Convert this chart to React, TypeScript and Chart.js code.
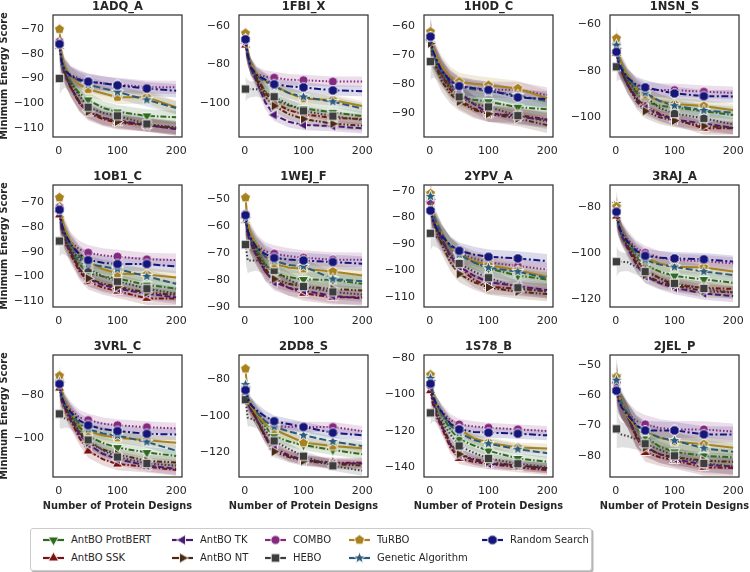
import React, { useEffect, useRef } from 'react';
import { Chart, registerables } from 'chart.js';
Chart.register(...registerables);

// ---------- data ----------
const xs = [1, 5, 10, 20, 35, 50, 75, 100, 150, 200];
const markerIdx = [0, 5, 7, 8];
const xTicks = [0, 100, 200];
const bandSpread = [6.5, 4.8, 4.2, 3.8, 3.4, 3.1, 2.9, 2.8, 2.7, 2.7];

const methods = ['AntBO ProtBERT', 'AntBO SSK', 'AntBO TK', 'AntBO NT', 'COMBO', 'HEBO', 'TuRBO', 'Genetic Algorithm', 'Random Search'];
const colors = ['#306a21', '#7a1111', '#4a1a72', '#4a2a12', '#84297f', '#3d3d3d', '#a8821e', '#2c5b78', '#16167a'];
const markers = ['triDown', 'triUp', 'triLeft', 'triRight', 'circle', 'square', 'pentagon', 'star', 'octagon'];
const dashes = [[6, 2, 1.5, 2], [5, 2, 1.5, 2], [6, 2.5], [5, 2, 1.5, 2, 1.5, 2], [1.5, 2], [1.5, 2], [], [7, 3], [7, 2.5, 2, 2.5]];

const titles = ['1ADQ_A', '1FBI_X', '1H0D_C', '1NSN_S', '1OB1_C', '1WEJ_F', '2YPV_A', '3RAJ_A', '3VRL_C', '2DD8_S', '1S78_B', '2JEL_P'];
const yMins = [-113.8, -117.9, -98.4, -108.4, -112.4, -90.1, -113.9, -123.3, -118.3, -133.3, -145.3, -87];
const yMaxs = [-64.2, -54.3, -56.2, -56.1, -63, -44.8, -67.7, -70.6, -61.5, -66.9, -78.2, -46.7];
const yTicks = [
  [-70, -80, -90, -100, -110],
  [-60, -80, -100],
  [-60, -70, -80, -90],
  [-60, -80, -100],
  [-70, -80, -90, -100, -110],
  [-50, -60, -70, -80, -90],
  [-70, -80, -90, -100, -110],
  [-80, -100, -120],
  [-80, -100],
  [-80, -100, -120],
  [-80, -100, -120, -140],
  [-50, -60, -70, -80],
];

// series order: ProtBERT, SSK, TK, NT, COMBO, HEBO, TuRBO, GA, Random Search
const P_1ADQ_A = [
  [-77, -83, -87, -91.5, -96, -98.7, -102, -103.6, -105.2, -105.8],
  [-77, -84, -88, -93.5, -100, -104, -106.5, -108, -109, -110.5],
  [-75, -83, -88, -93.5, -99.5, -103, -106, -107, -109, -110.5],
  [-76, -83, -88, -93.5, -100, -103.5, -106, -107.5, -108.9, -110],
  [-75, -83, -86, -88.5, -90, -91, -92, -92.5, -93.5, -93.6],
  [-90, -90, -89.5, -92, -97, -101.7, -104, -105.2, -108.5, -110],
  [-70, -81, -85.5, -89, -92.5, -94.4, -96, -97.6, -97.6, -101.7],
  [-76, -83, -86.5, -89, -91, -92.5, -94, -95.5, -98.7, -102],
  [-76, -83, -86.5, -89, -90.5, -91.3, -92, -92.8, -94.1, -95],
];
const P_1FBI_X = [
  [-68, -76, -81, -87, -94, -98.6, -101.5, -103, -105, -107],
  [-70, -76, -81, -87, -95, -100, -104, -106, -108, -108.5],
  [-69, -76, -82, -89, -100, -106.4, -110, -111.6, -112.2, -113.4],
  [-66.8, -75, -81, -88, -97, -101.7, -106, -108.5, -111, -112],
  [-68, -76, -81, -85, -86.5, -87, -88, -88.3, -89, -89],
  [-92.9, -93, -93, -93, -95, -96.9, -101, -104.3, -107, -109],
  [-63.8, -74, -80, -85, -88.5, -91, -95, -97.9, -98.6, -101.7],
  [-67, -75, -81, -86, -89, -91.5, -95, -97, -99.5, -103],
  [-67, -75, -81.5, -85.5, -88, -90.4, -91.5, -92, -93.6, -94],
];
const P_1H0D_C = [
  [-64, -69, -72, -76, -81, -84.5, -85.5, -86.2, -88.1, -88.8],
  [-64.8, -70, -72.5, -77, -82, -85.6, -88.5, -90.4, -90.8, -92.3],
  [-64.8, -69, -71.5, -75, -80, -82.7, -87, -90.2, -91.4, -92.5],
  [-66, -71, -74, -79, -83.5, -86.2, -89, -90.4, -92, -94.3],
  [-62.5, -68.5, -71, -75, -78.5, -80.5, -81.5, -82, -82.1, -83.9],
  [-72.3, -73, -74, -77, -81, -84.5, -87, -88, -91, -93],
  [-62, -67.5, -70, -74, -77.5, -79.3, -80, -80.5, -81.6, -85],
  [-64, -69.5, -72, -76, -79, -81, -82, -82.5, -84, -86],
  [-63.7, -68.5, -71, -75.5, -79, -80.8, -81.5, -82.1, -84.7, -85.3],
];
const P_1NSN_S = [
  [-70, -76, -79.5, -84, -89.5, -93.3, -95, -95.7, -97.3, -99],
  [-72.6, -77, -80.5, -86, -91.5, -95.1, -98.5, -100.7, -104.7, -104.7],
  [-72, -77, -80.5, -86, -92, -96, -99, -101, -102.6, -104.5],
  [-70.4, -76, -79.5, -86, -93, -97.3, -100, -101.4, -103.7, -104.5],
  [-68.3, -75, -78.5, -83, -86.5, -88, -88.3, -88.3, -89, -89.5],
  [-78.3, -79, -80, -84, -88.5, -91.1, -96, -98.3, -100.4, -103],
  [-66.1, -73, -77.5, -82, -87.5, -90.4, -93, -94.3, -95.1, -96.9],
  [-69, -75, -78.5, -83, -87, -89.5, -93, -95, -97, -98],
  [-71.9, -77, -79.5, -83, -86, -87.1, -88.5, -89.7, -90.9, -91],
];
const P_1OB1_C = [
  [-74, -79, -83.5, -89, -95, -98.8, -100, -100.8, -103.5, -104.9],
  [-75.1, -81, -85.5, -91, -98, -102.2, -104.5, -106, -108.9, -109],
  [-73.8, -80, -84.5, -90, -97, -101, -103.5, -105, -107, -108.5],
  [-72.4, -79, -84.5, -90, -97, -100.8, -103, -104.2, -106.6, -107.5],
  [-72, -78, -81.5, -86, -89, -90.4, -91.5, -92, -93.1, -93.4],
  [-85.7, -86, -87, -89, -93, -96.8, -100, -102, -105, -107],
  [-68.1, -76, -80.5, -86, -91, -94, -97, -98.8, -99.2, -100.5],
  [-73, -79, -82.5, -87, -92, -95, -96, -97, -100, -103],
  [-73, -79, -82.5, -87, -91, -93.4, -94.5, -95, -95, -96],
];
const P_1WEJ_F = [
  [-57, -62, -65.5, -69, -74.5, -77.8, -79, -79.9, -80, -81.5],
  [-58, -63, -66.5, -71, -77, -80, -83, -85, -86.5, -86.5],
  [-57, -63, -66.5, -71, -77, -80.9, -83, -84, -86, -86.9],
  [-56.9, -62, -65.5, -70, -76, -79.7, -81.5, -82.5, -83.4, -84],
  [-55.6, -61, -64, -67, -69.5, -70.3, -71.2, -71.8, -72.5, -72.6],
  [-66.9, -72.8, -72.8, -72.8, -74.5, -76.5, -80, -82.5, -84.5, -85.5],
  [-49.5, -59, -63, -67, -71.5, -74, -75.5, -75.9, -76.9, -78.4],
  [-57, -62, -65, -68, -71.5, -73, -74.5, -75, -79.7, -80.5],
  [-56, -62, -64.5, -68, -70.5, -71.9, -72.5, -72.8, -73.4, -74],
];
const P_2YPV_A = [
  [-73, -79, -82.5, -86.5, -91, -93.2, -97, -99.3, -102, -103.5],
  [-74, -80, -83.5, -88, -95, -99, -103.5, -106.2, -107, -108],
  [-74, -80, -83.5, -88, -94.5, -98.6, -102, -104.5, -106, -107.5],
  [-73.2, -80, -84.5, -90, -97, -101.4, -104.5, -106.5, -108.1, -109],
  [-74, -79, -82.5, -86.5, -91, -93.5, -95.5, -97, -98.4, -99.7],
  [-86, -86, -87, -89, -94, -97.4, -100.5, -102.8, -106.6, -108],
  [-70.9, -78, -81.5, -86, -91, -94, -96.5, -98, -100, -102.4],
  [-72, -78, -81.5, -86, -91, -94, -97, -99, -100.5, -103],
  [-77.4, -81, -83.5, -87, -90.5, -92.6, -94, -94.9, -95.5, -96.5],
];
const P_3RAJ_A = [
  [-79, -87, -91.5, -96, -101.5, -105.2, -108, -109.9, -111.4, -112.8],
  [-84, -89, -92.5, -97, -103, -107.3, -111, -113.8, -115, -115.5],
  [-82, -88, -92.5, -98, -105, -110, -113, -115, -117.5, -118.6],
  [-79.6, -87, -91.5, -97, -104.5, -109.5, -112.5, -114, -116.4, -117],
  [-81, -87, -90.5, -94, -98, -99.9, -102, -103, -103.5, -104.5],
  [-103.7, -103.7, -103.8, -104, -106, -108, -111, -113.1, -115.3, -117],
  [-80, -87, -91, -95, -99.5, -102, -104.5, -105.9, -106.2, -108],
  [-82, -88, -91.5, -95, -100, -103, -105, -106, -108, -109.5],
  [-82.2, -88, -91.5, -95, -99, -101.2, -102, -102.3, -102.7, -103.7],
];
const P_3VRL_C = [
  [-75, -81, -84.5, -89, -95, -99.2, -102.5, -104.6, -106.9, -108.5],
  [-76.9, -83, -86.5, -92, -100, -106.2, -110, -112.3, -113.5, -115],
  [-74, -81, -85.5, -91, -98.5, -103, -107.5, -110, -113, -114.5],
  [-74.2, -81, -85.5, -90, -97.5, -102.3, -105.5, -107.7, -110.8, -111.5],
  [-73, -80, -83.5, -87, -90.5, -91.8, -93.5, -94.2, -95.1, -95.7],
  [-88.9, -91, -91, -92, -97, -101, -106, -109, -112, -113],
  [-71.2, -79, -83.5, -88, -94, -97, -99, -100, -101.2, -102.3],
  [-74, -81, -84.5, -88.5, -93.5, -96, -98, -99, -102, -106],
  [-75, -81, -84.5, -88, -92, -94.2, -96, -96.9, -98.2, -98.5],
];
const P_2DD8_S = [
  [-85, -91, -94.5, -99, -106, -111, -114, -115.9, -118.6, -120.9],
  [-87.6, -93, -96.5, -102, -111, -117.3, -121.5, -124, -125.5, -125.5],
  [-86, -92, -96.5, -102, -111.5, -118, -122, -124, -126, -126],
  [-84.5, -91, -95.5, -102, -112, -119.5, -122.5, -124.5, -126.3, -127],
  [-85.5, -92, -94.5, -98, -103, -105.6, -106, -106, -106.1, -108.3],
  [-91.2, -101, -101.5, -103, -108, -113.7, -118, -122, -127.2, -129.9],
  [-74.4, -89, -94.5, -99, -104.5, -107.4, -111, -114.6, -116.4, -117.7],
  [-83, -90, -93.5, -98, -103, -106, -108.5, -110.6, -114, -116.5],
  [-86, -91, -94, -97, -100.5, -102.9, -104.5, -106.1, -109.2, -110.6],
];
const P_1S78_B = [
  [-91, -99, -105, -111, -119, -124.5, -128, -130.9, -135.1, -136.9],
  [-97.8, -105, -111, -118, -129, -135.1, -137, -138.2, -140, -141.5],
  [-95, -103, -110, -117, -127.5, -133, -136, -138, -139, -140.5],
  [-92.2, -101, -108, -116, -127, -132.7, -135.5, -137, -139.1, -140.5],
  [-95, -101, -104.5, -109, -114, -116.4, -117.5, -118.2, -119.1, -120],
  [-110, -110, -111, -114, -122, -128.2, -132, -135.1, -138, -140],
  [-89.1, -99, -104.5, -110, -116, -119, -124, -126.4, -129.1, -129.6],
  [-91, -99, -104.5, -110, -117, -121, -125, -127, -130, -132.2],
  [-94, -101, -104.5, -109.5, -116, -119.1, -120.5, -120.9, -121.5, -122.4],
];
const P_2JEL_P = [
  [-53.8, -59, -62.5, -66, -70.5, -73.7, -77, -78.7, -80, -80.5],
  [-57, -61, -63.5, -67, -74, -78.9, -80.5, -81.5, -83.8, -84],
  [-56, -61, -63.5, -67, -73.5, -77, -79.5, -81, -83, -83.5],
  [-54.6, -60, -63.5, -67, -73.5, -77.3, -79.5, -80.5, -81.6, -82],
  [-55.8, -61, -63.5, -66, -68.5, -69.6, -70.8, -71.3, -71.3, -72],
  [-71.1, -72.5, -73, -73.5, -74.5, -76, -78, -80, -82.5, -83.5],
  [-54, -60, -63.5, -67, -70.5, -72, -74, -75.3, -76.2, -77.3],
  [-55, -60, -63.5, -66, -70, -72, -74, -75, -77.5, -78.7],
  [-58.5, -62, -64, -66.5, -70, -71.6, -71.6, -71.6, -72.9, -73],
];
const panelValues = [P_1ADQ_A, P_1FBI_X, P_1H0D_C, P_1NSN_S, P_1OB1_C, P_1WEJ_F, P_2YPV_A, P_3RAJ_A, P_3VRL_C, P_2DD8_S, P_1S78_B, P_2JEL_P];

// ---------- layout ----------
const plotLefts = [53, 239, 424, 610];
const plotTops = [15, 185, 355];
const PW = 129;
const PH = 122;
const YW = 50;
const PT = 6;
const PR = 10;
const XH = 24;
const FONT = "'DejaVu Sans', sans-serif";
const TEXT = '#262626';

// ---------- markers ----------
const markerCache = new Map<string, HTMLCanvasElement>();
function markerCanvas(kind: string, color: string): HTMLCanvasElement {
  const key = kind + color;
  const cached = markerCache.get(key);
  if (cached) return cached;
  const S = 15;
  const c = document.createElement('canvas');
  c.width = S;
  c.height = S;
  const g = c.getContext('2d')!;
  const cx = S / 2;
  const cy = S / 2;
  const poly = (n: number, r: number, start: number) => {
    for (let i = 0; i < n; i++) {
      const a = start + (i * 2 * Math.PI) / n;
      const px = cx + r * Math.cos(a);
      const py = cy + r * Math.sin(a);
      if (i === 0) g.moveTo(px, py);
      else g.lineTo(px, py);
    }
  };
  g.beginPath();
  if (kind === 'circle') g.arc(cx, cy, 4.6, 0, Math.PI * 2);
  else if (kind === 'square') g.rect(cx - 4.3, cy - 4.3, 8.6, 8.6);
  else if (kind === 'triDown') poly(3, 6, Math.PI / 2);
  else if (kind === 'triUp') poly(3, 6, -Math.PI / 2);
  else if (kind === 'triLeft') poly(3, 6, Math.PI);
  else if (kind === 'triRight') poly(3, 6, 0);
  else if (kind === 'pentagon') poly(5, 5.3, -Math.PI / 2);
  else if (kind === 'octagon') poly(8, 5, Math.PI / 8);
  else if (kind === 'star') {
    for (let i = 0; i < 10; i++) {
      const a = -Math.PI / 2 + (i * Math.PI) / 5;
      const r = i % 2 === 0 ? 6.3 : 2.6;
      const px = cx + r * Math.cos(a);
      const py = cy + r * Math.sin(a);
      if (i === 0) g.moveTo(px, py);
      else g.lineTo(px, py);
    }
  }
  g.closePath();
  g.fillStyle = color;
  g.fill();
  g.strokeStyle = '#ffffff';
  g.lineWidth = 0.9;
  g.stroke();
  markerCache.set(key, c);
  return c;
}

function rgba(hex: string, a: number) {
  const r = parseInt(hex.slice(1, 3), 16);
  const g = parseInt(hex.slice(3, 5), 16);
  const b = parseInt(hex.slice(5, 7), 16);
  return `rgba(${r},${g},${b},${a})`;
}

const boxPlugin = {
  id: 'boxPlugin',
  afterDatasetsDraw(chart: any) {
    const { ctx, chartArea } = chart;
    ctx.save();
    ctx.strokeStyle = '#333333';
    ctx.lineWidth = 1.25;
    ctx.strokeRect(chartArea.left, chartArea.top, chartArea.right - chartArea.left, chartArea.bottom - chartArea.top);
    ctx.restore();
  },
};

function Panel({ idx }: { idx: number }) {
  const ref = useRef<HTMLCanvasElement>(null);
  const col = idx % 4;
  const row = Math.floor(idx / 4);
  const left = plotLefts[col] - YW;
  const top = plotTops[row] - PT;
  const w = YW + PW + PR;
  const h = PT + PH + XH;

  useEffect(() => {
    const vals = panelValues[idx];
    const datasets: any[] = [];
    methods.forEach((m, s) => {
      const mean = vals[s];
      datasets.push({
        label: m + ' upper',
        data: xs.map((x, i) => ({ x, y: mean[i] + bandSpread[i] })),
        borderWidth: 0,
        pointRadius: 0,
        fill: false,
        order: 100,
      });
      datasets.push({
        label: m + ' lower',
        data: xs.map((x, i) => ({ x, y: mean[i] - bandSpread[i] })),
        borderWidth: 0,
        pointRadius: 0,
        fill: '-1',
        backgroundColor: rgba(colors[s], 0.16),
        order: 100,
      });
    });
    methods.forEach((m, s) => {
      const img = markerCanvas(markers[s], colors[s]);
      datasets.push({
        label: m,
        data: xs.map((x, i) => ({ x, y: vals[s][i] })),
        borderColor: colors[s],
        backgroundColor: colors[s],
        borderWidth: 2,
        borderDash: dashes[s],
        fill: false,
        tension: 0,
        pointStyle: img,
        pointRadius: (ctx: any) => (markerIdx.includes(ctx.dataIndex) ? 4 : 0),
        order: 50 - s,
      });
    });

    const chart = new Chart(ref.current!, {
      type: 'line',
      data: { datasets },
      plugins: [boxPlugin],
      options: {
        animation: false,
        responsive: false,
        maintainAspectRatio: false,
        events: [],
        layout: { padding: { left: 0, right: PR, top: PT, bottom: 0 }, autoPadding: false },
        plugins: { legend: { display: false }, tooltip: { enabled: false }, title: { display: false } },
        scales: {
          x: {
            type: 'linear',
            min: -10,
            max: 210,
            grid: { display: false, drawTicks: false },
            border: { display: false },
            ticks: {
              font: { family: FONT, size: 11 },
              color: TEXT,
              padding: 8,
              maxRotation: 0,
              autoSkip: false,
              callback: (v: any) => String(v),
            },
            afterBuildTicks: (s: any) => {
              s.ticks = xTicks.map((v) => ({ value: v }));
            },
            afterFit: (s: any) => {
              s.height = XH;
              s.paddingLeft = 0;
              s.paddingRight = 0;
            },
          },
          y: {
            type: 'linear',
            min: yMins[idx],
            max: yMaxs[idx],
            grid: { display: false, drawTicks: false },
            border: { display: false },
            ticks: {
              font: { family: FONT, size: 11 },
              color: TEXT,
              padding: 9,
              autoSkip: false,
              callback: (v: any) => String(v).replace('-', '\u2212'),
            },
            afterBuildTicks: (s: any) => {
              s.ticks = yTicks[idx].map((v) => ({ value: v }));
            },
            afterFit: (s: any) => {
              s.width = YW;
              s.paddingTop = 0;
              s.paddingBottom = 0;
            },
          },
        },
      } as any,
    });
    return () => chart.destroy();
  }, [idx]);

  return (
    <>
      <canvas
        ref={ref}
        width={w}
        height={h}
        style={{ position: 'absolute', left, top, width: w, height: h }}
      />
      <div
        style={{
          position: 'absolute',
          left: plotLefts[col],
          top: plotTops[row] - 16,
          width: PW,
          textAlign: 'center',
          font: `bold 11.5px ${FONT}`,
          lineHeight: '14px',
          color: TEXT,
          whiteSpace: 'nowrap',
        }}
      >
        {titles[idx]}
      </div>
    </>
  );
}

function LegendHandle({ s }: { s: number }) {
  const ref = useRef<HTMLCanvasElement>(null);
  useEffect(() => {
    const c = ref.current!;
    const g = c.getContext('2d')!;
    g.clearRect(0, 0, c.width, c.height);
    g.strokeStyle = colors[s];
    g.lineWidth = 2.2;
    g.beginPath();
    g.moveTo(0, 7);
    g.lineTo(21, 7);
    g.stroke();
    const img = markerCanvas(markers[s], colors[s]);
    g.drawImage(img, 10.5 - img.width / 2, 7 - img.height / 2);
  }, [s]);
  return <canvas ref={ref} width={21} height={14} style={{ position: 'absolute', left: 0, top: 0 }} />;
}

const legendCols = [43, 172, 265, 349, 482];
const legendRows = [540, 558];

function Legend() {
  return (
    <>
      <div
        style={{
          position: 'absolute',
          left: 30,
          top: 528,
          width: 560,
          height: 41,
          border: '1px solid #cccccc',
          borderRadius: 3,
          boxShadow: '1.5px 1.5px 0 #b5b5b5',
          background: '#ffffff',
        }}
      />
      {methods.map((m, s) => {
        const c = Math.floor(s / 2);
        const r = s % 2;
        return (
          <div key={m} style={{ position: 'absolute', left: legendCols[c], top: legendRows[r] - 7, height: 14 }}>
            <LegendHandle s={s} />
            <div
              style={{
                position: 'absolute',
                left: 28,
                top: 0,
                font: `10px ${FONT}`,
                lineHeight: '14px',
                color: TEXT,
                whiteSpace: 'nowrap',
              }}
            >
              {m}
            </div>
          </div>
        );
      })}
    </>
  );
}

export default function App() {
  return (
    <div
      style={{
        position: 'fixed',
        left: 0,
        top: 0,
        width: 750,
        height: 572,
        background: '#ffffff',
        overflow: 'hidden',
      }}
    >
      {titles.map((t, i) => (
        <Panel key={t} idx={i} />
      ))}
      {plotTops.map((t) => (
        <div
          key={'yl' + t}
          style={{
            position: 'absolute',
            left: 5 - 80,
            top: t + PH / 2 - 7,
            width: 160,
            height: 14,
            lineHeight: '14px',
            textAlign: 'center',
            font: `bold 9.8px ${FONT}`,
            color: TEXT,
            transform: 'rotate(-90deg)',
            whiteSpace: 'nowrap',
          }}
        >
          Minimum Energy Score
        </div>
      ))}
      {plotLefts.map((l) => (
        <div
          key={'xl' + l}
          style={{
            position: 'absolute',
            left: l - 20,
            top: 499,
            width: PW + 40,
            textAlign: 'center',
            font: `bold 9.8px ${FONT}`,
            lineHeight: '13px',
            color: TEXT,
            whiteSpace: 'nowrap',
          }}
        >
          Number of Protein Designs
        </div>
      ))}
      <Legend />
    </div>
  );
}
